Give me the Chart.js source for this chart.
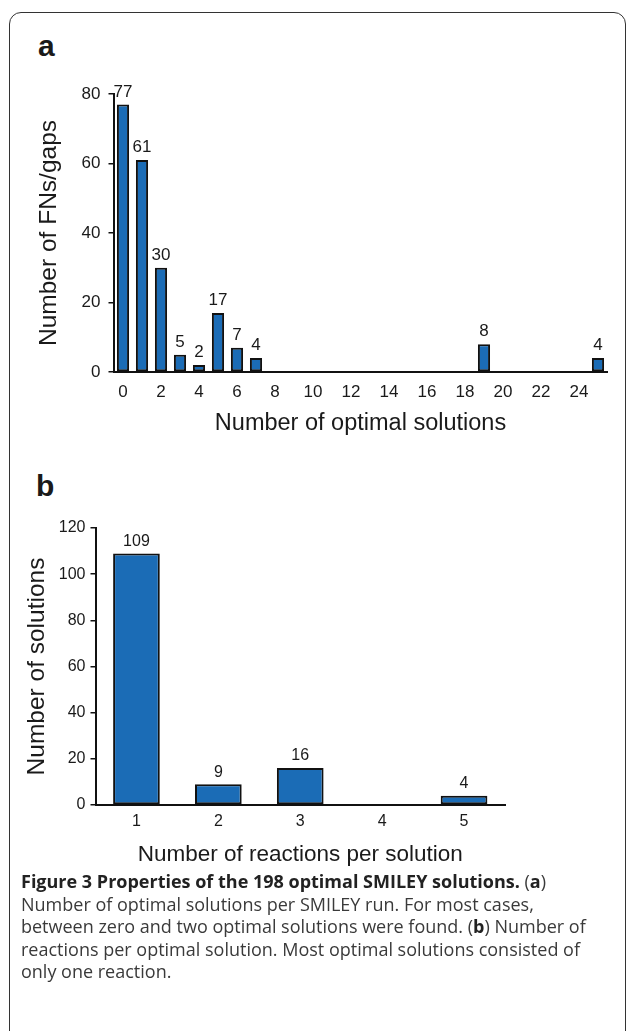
<!DOCTYPE html>
<html>
<head>
<meta charset="utf-8">
<script src="https://cdn.jsdelivr.net/npm/chart.js@4/dist/chart.umd.min.js"></script>
<style>
  body { margin: 0; background: #fff; width: 629px; height: 1031px; overflow: hidden; position: relative; }
  #frame { position: absolute; left: 9px; top: 12px; width: 615px; height: 1040px; border: 1.5px solid #333; border-radius: 12px; }
  .panel { position: absolute; font-family: "Liberation Sans", Arial, sans-serif; font-weight: bold; font-size: 30px; color: #1a1a1a; }
  .wrap { position: absolute; left: 0; width: 629px; height: 390px; }
  #caption { position: absolute; left: 21px; top: 870px; font-family: "Open Sans", sans-serif; font-size: 18px; color: #3a3a3a; line-height: 22.5px; }
  #caption div { white-space: nowrap; }
  #caption b { color: #222; }
</style>
</head>
<body>
<div id="frame"></div>
<div class="panel" style="left:38px; top:29px;">a</div>
<div class="panel" style="left:36px; top:469px;">b</div>
<div class="wrap" style="top:60px;"><canvas id="chartA" width="629" height="390"></canvas></div>
<div class="wrap" style="top:490px;"><canvas id="chartB" width="629" height="390"></canvas></div>
<div id="caption">
  <div><b>Figure 3 Properties of the 198 optimal SMILEY solutions.</b> (<b>a</b>)</div>
  <div>Number of optimal solutions per SMILEY run. For most cases,</div>
  <div>between zero and two optimal solutions were found. (<b>b</b>) Number of</div>
  <div>reactions per optimal solution. Most optimal solutions consisted of</div>
  <div>only one reaction.</div>
</div>
<script>
// panel a: number of optimal solutions per run
var solutionCounts = ['0','1','2','3','4','5','6','7','8','9','10','11','12','13','14','15','16','17','18','19','20','21','22','23','24','25'];
var fnGaps = [77, 61, 30, 5, 2, 17, 7, 4, 0, 0, 0, 0, 0, 0, 0, 0, 0, 0, 0, 8, 0, 0, 0, 0, 0, 4];
var tickLabelsA = ['0','2','4','6','8','10','12','14','16','18','20','22','24'];

// panel b: reactions per solution
var reactionCounts = ['1','2','3','4','5'];
var solutions = [109, 9, 16, 0, 4];

var barBlue = '#1b6cb6';
var ink = '#1a1a1a';

Chart.defaults.font.family = '"Liberation Sans", Arial, sans-serif';
Chart.defaults.color = ink;

// value labels above each bar
var valueLabels = {
    id: 'valueLabels',
    afterDatasetsDraw: function (chart, args, opts) {
        var ctx = chart.ctx;
        var meta = chart.getDatasetMeta(0);
        var data = chart.data.datasets[0].data;
        ctx.save();
        ctx.font = opts.size + 'px "Liberation Sans", Arial, sans-serif';
        ctx.fillStyle = ink;
        ctx.textAlign = 'center';
        ctx.textBaseline = 'bottom';
        meta.data.forEach(function (bar, i) {
            if (!data[i]) return;
            ctx.fillText(String(data[i]), bar.x, bar.y - opts.gap);
        });
        ctx.restore();
    }
};

function makeChart(id, labels, values, cfg) {
    var ctx = document.getElementById(id).getContext('2d');
    return new Chart(ctx, {
        type: 'bar',
        data: {
            labels: labels,
            datasets: [{
                data: values,
                backgroundColor: barBlue,
                borderColor: '#111',
                borderWidth: 2,
                borderSkipped: false,
                barPercentage: cfg.barPct,
                categoryPercentage: 1.0
            }]
        },
        options: {
            responsive: false,
            animation: false,
            devicePixelRatio: 1,
            layout: { padding: { left: 0, right: cfg.padRight, top: cfg.padTop, bottom: 0 } },
            plugins: {
                legend: { display: false },
                tooltip: { enabled: false },
                valueLabels: { size: cfg.labelSize, gap: 4 }
            },
            scales: {
                x: {
                    grid: { display: false, drawTicks: false },
                    border: { display: true, color: '#111', width: 2 },
                    ticks: {
                        autoSkip: false,
                        maxRotation: 0,
                        padding: cfg.xTickPad,
                        font: { size: cfg.tickSize },
                        callback: cfg.xCallback
                    },
                    title: {
                        display: true,
                        text: cfg.xTitle,
                        font: { size: cfg.xTitleSize },
                        padding: { top: 0, bottom: cfg.xTitlePad }
                    },
                    afterFit: function (s) { s.height = cfg.xHeight; }
                },
                y: {
                    min: 0,
                    max: cfg.yMax,
                    grid: { display: true, drawOnChartArea: false, drawTicks: true, tickLength: 5, color: '#111', lineWidth: 1.5 },
                    border: { display: true, color: '#111', width: 2 },
                    ticks: { stepSize: 20, padding: cfg.yTickPad, font: { size: cfg.tickSize } },
                    title: {
                        display: true,
                        text: cfg.yTitle,
                        font: { size: cfg.yTitleSize },
                        padding: { top: cfg.yTitlePad, bottom: 0 }
                    },
                    afterFit: function (s) { s.width = cfg.yWidth; }
                }
            }
        },
        plugins: [valueLabels]
    });
}

makeChart('chartA', solutionCounts, fnGaps, {
    barPct: 0.64, padRight: 21.5, padTop: 34, labelSize: 17,
    tickSize: 17, xTickPad: 10, yTickPad: 8,
    xTitle: 'Number of optimal solutions', xTitleSize: 23.5, xTitlePad: 12, xHeight: 78,
    yTitle: 'Number of FNs/gaps', yTitleSize: 24.5, yTitlePad: 35, yWidth: 113.5, yMax: 80,
    xCallback: function (v, i) {
        var lab = solutionCounts[i];
        return tickLabelsA.indexOf(lab) >= 0 ? lab : '';
    }
});

makeChart('chartB', reactionCounts, solutions, {
    barPct: 0.57, padRight: 124, padTop: 38, labelSize: 16,
    tickSize: 16, xTickPad: 7, yTickPad: 5,
    xTitle: 'Number of reactions per solution', xTitleSize: 22.5, xTitlePad: 12, xHeight: 75,
    yTitle: 'Number of solutions', yTitleSize: 24.5, yTitlePad: 23, yWidth: 95.5, yMax: 120,
    xCallback: function (v, i) { return reactionCounts[i]; }
});
</script>
</body>
</html>
